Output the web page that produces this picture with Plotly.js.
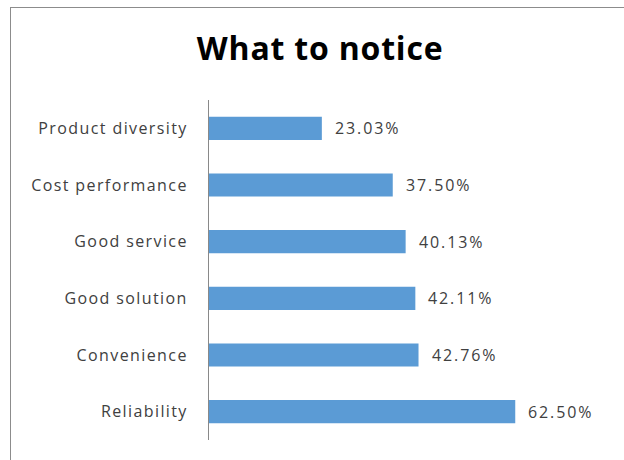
<!DOCTYPE html>
<html><head><meta charset="utf-8">
<script src="https://cdn.plot.ly/plotly-3.0.1.min.js"></script>
<style>body{margin:0;padding:0;background:#fff}#wrap{position:relative;width:624px;height:460px}#chart{width:624px;height:460px}#frame{position:absolute;left:10px;top:7px;width:640px;height:480px;border-left:1px solid #8c8c8c;border-top:1px solid #8c8c8c;pointer-events:none}
.ytick text{letter-spacing:1.4px}
.annotation-text{letter-spacing:1.9px}
.gtitle{letter-spacing:0.8px}
</style>
</head><body>
<div id="wrap"><div id="chart"></div><div id="frame"></div></div>
<script>
const categories = ["Product diversity","Cost performance","Good service","Good solution","Convenience","Reliability"];
const values = [23.03, 37.50, 40.13, 42.11, 42.76, 62.50];
const valueLabels = ["23.03%","37.50%","40.13%","42.11%","42.76%","62.50%"];
const titleText = "What to notice";

const font = "Open Sans, Noto Sans, sans-serif";
const trace = {
  type: "bar", orientation: "h",
  x: values, y: categories,
  marker: {color: "#5B9BD5"},
  width: 0.41,
  hoverinfo: "none"
};
const annotations = values.map((v, i) => ({
  x: v, y: categories[i], xref: "x", yref: "y",
  text: valueLabels[i], showarrow: false,
  xanchor: "left", xshift: 11,
  font: {family: font, size: 16, color: "#404040"}
}));
const layout = {
  width: 624, height: 460,
  margin: {l: 209, r: 72, t: 100, b: 20, pad: 0},
  paper_bgcolor: "#fff", plot_bgcolor: "#fff",
  title: {text: "<b>" + titleText + "</b>", x: 0.513, xanchor: "center", y: 0.895, yanchor: "middle",
          font: {family: font, size: 32, color: "#000"}},
  xaxis: {range: [0, 70], showgrid: false, zeroline: false, showticklabels: false, showline: false, fixedrange: true},
  yaxis: {autorange: "reversed", showgrid: false, zeroline: false, showline: true, linecolor: "#898989", linewidth: 1,
          ticks: "", ticklabelstandoff: 17, tickfont: {family: font, size: 16, color: "#404040"}},
  annotations: annotations,
  showlegend: false
};
Plotly.newPlot("chart", [trace], layout, {displayModeBar: false, staticPlot: true});
</script>
</body></html>
